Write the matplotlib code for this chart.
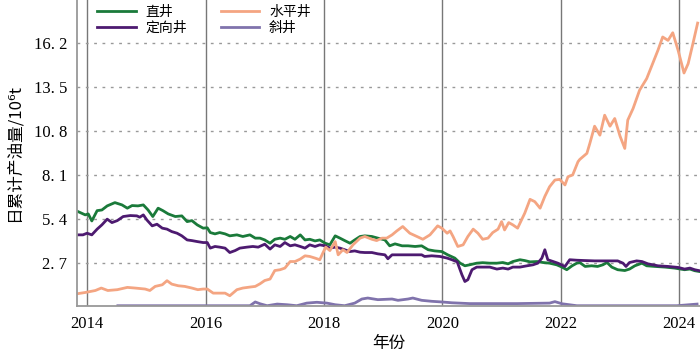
import matplotlib.pyplot as plt

plt.rcParams['font.family'] = ['Liberation Serif', 'Noto Sans CJK SC', 'DejaVu Sans']

# 直井
zj_year = [2013.83, 2013.97, 2014.02, 2014.08, 2014.17, 2014.25, 2014.34, 2014.47, 2014.59, 2014.68,
           2014.76, 2014.86, 2014.95, 2015.03, 2015.11, 2015.20, 2015.28, 2015.37, 2015.49, 2015.60,
           2015.69, 2015.77, 2015.86, 2015.96, 2016.03, 2016.08, 2016.16, 2016.24, 2016.33, 2016.41,
           2016.53, 2016.63, 2016.75, 2016.84, 2016.92, 2017.00, 2017.09, 2017.17, 2017.26, 2017.34,
           2017.43, 2017.51, 2017.60, 2017.68, 2017.76, 2017.85, 2017.93, 2018.02, 2018.10, 2018.19,
           2018.27, 2018.35, 2018.44, 2018.52, 2018.61, 2018.69, 2018.81, 2018.91, 2019.03, 2019.11,
           2019.20, 2019.32, 2019.42, 2019.54, 2019.65, 2019.76, 2019.87, 2019.99, 2020.09, 2020.21,
           2020.30, 2020.38, 2020.46, 2020.58, 2020.68, 2020.80, 2020.92, 2021.02, 2021.11, 2021.19,
           2021.31, 2021.39, 2021.48, 2021.60, 2021.70, 2021.81, 2021.93, 2022.02, 2022.10, 2022.19,
           2022.27, 2022.32, 2022.41, 2022.52, 2022.62, 2022.71, 2022.78, 2022.86, 2022.96, 2023.08,
           2023.16, 2023.25, 2023.37, 2023.45, 2023.59, 2023.76, 2023.92, 2024.09, 2024.18, 2024.26,
           2024.34]
zj_val = [5.90, 5.67, 5.73, 5.30, 5.93, 5.97, 6.22, 6.42, 6.28, 6.08,
          6.24, 6.22, 6.28, 5.97, 5.57, 6.08, 5.93, 5.73, 5.57, 5.61,
          5.26, 5.32, 5.06, 4.86, 4.88, 4.59, 4.51, 4.59, 4.51, 4.39,
          4.45, 4.35, 4.45, 4.25, 4.25, 4.14, 3.94, 4.18, 4.25, 4.18,
          4.35, 4.18, 4.45, 4.14, 4.18, 4.08, 4.14, 3.94, 3.84, 4.39,
          4.25, 4.10, 3.94, 4.14, 4.35, 4.39, 4.35, 4.25, 4.14, 3.78,
          3.90, 3.78, 3.78, 3.74, 3.78, 3.54, 3.47, 3.43, 3.23, 3.03,
          2.72, 2.56, 2.62, 2.72, 2.75, 2.72, 2.72, 2.76, 2.68, 2.82,
          2.93, 2.88, 2.80, 2.82, 2.76, 2.72, 2.62, 2.48, 2.32, 2.56,
          2.72, 2.76, 2.52, 2.56, 2.52, 2.62, 2.76, 2.48, 2.32, 2.27,
          2.36, 2.56, 2.72, 2.56, 2.52, 2.48, 2.42, 2.32, 2.36, 2.26,
          2.21]

# 定向井
dx_year = [2013.83, 2013.93, 2014.00, 2014.08, 2014.17, 2014.25, 2014.34, 2014.42, 2014.51, 2014.61,
           2014.73, 2014.84, 2014.89, 2014.95, 2015.01, 2015.10, 2015.18, 2015.27, 2015.35, 2015.43,
           2015.52, 2015.60, 2015.69, 2015.77, 2015.86, 2015.96, 2016.03, 2016.08, 2016.16, 2016.24,
           2016.33, 2016.41, 2016.50, 2016.58, 2016.70, 2016.80, 2016.89, 2017.00, 2017.09, 2017.17,
           2017.26, 2017.34, 2017.43, 2017.51, 2017.60, 2017.68, 2017.76, 2017.85, 2017.93, 2018.02,
           2018.10, 2018.19, 2018.27, 2018.35, 2018.44, 2018.52, 2018.61, 2018.69, 2018.81, 2018.91,
           2019.03, 2019.08, 2019.15, 2019.32, 2019.49, 2019.65, 2019.70, 2019.82, 2019.96, 2020.08,
           2020.16, 2020.25, 2020.33, 2020.38, 2020.43, 2020.50, 2020.58, 2020.68, 2020.80, 2020.92,
           2021.02, 2021.11, 2021.19, 2021.31, 2021.43, 2021.53, 2021.61, 2021.68, 2021.73, 2021.78,
           2021.87, 2021.95, 2022.07, 2022.15, 2022.27, 2022.41, 2022.57, 2022.74, 2022.96, 2023.05,
           2023.10, 2023.16, 2023.28, 2023.37, 2023.47, 2023.64, 2023.81, 2023.98, 2024.09, 2024.18,
           2024.26, 2024.34]
dx_val = [4.45, 4.45, 4.55, 4.45, 4.80, 5.06, 5.41, 5.20, 5.32, 5.57,
          5.63, 5.61, 5.53, 5.67, 5.36, 5.00, 5.10, 4.86, 4.80, 4.65,
          4.55, 4.39, 4.14, 4.10, 4.04, 3.98, 3.98, 3.64, 3.74, 3.70,
          3.64, 3.37, 3.49, 3.64, 3.70, 3.74, 3.70, 3.88, 3.58, 3.84,
          3.74, 3.98, 3.78, 3.84, 3.74, 3.64, 3.84, 3.74, 3.84, 3.78,
          3.64, 3.70, 3.64, 3.54, 3.43, 3.47, 3.39, 3.37, 3.37, 3.29,
          3.23, 2.99, 3.23, 3.23, 3.23, 3.23, 3.13, 3.17, 3.13, 3.03,
          2.93, 2.80, 2.01, 1.60, 1.71, 2.32, 2.48, 2.48, 2.48, 2.36,
          2.42, 2.36, 2.48, 2.48, 2.56, 2.62, 2.72, 3.03, 3.54, 2.93,
          2.82, 2.72, 2.52, 2.93, 2.90, 2.88, 2.86, 2.86, 2.86, 2.72,
          2.52, 2.76, 2.86, 2.82, 2.68, 2.56, 2.52, 2.46, 2.36, 2.42,
          2.32, 2.26]

# 水平井
sp_year = [2013.83, 2013.97, 2014.14, 2014.24, 2014.35, 2014.51, 2014.68, 2014.81, 2014.98, 2015.06,
           2015.15, 2015.27, 2015.35, 2015.43, 2015.54, 2015.65, 2015.77, 2015.87, 2015.96, 2016.03,
           2016.13, 2016.24, 2016.33, 2016.41, 2016.53, 2016.63, 2016.75, 2016.84, 2016.92, 2017.00,
           2017.09, 2017.17, 2017.26, 2017.34, 2017.43, 2017.51, 2017.60, 2017.68, 2017.76, 2017.85,
           2017.93, 2017.98, 2018.03, 2018.10, 2018.19, 2018.24, 2018.32, 2018.39, 2018.49, 2018.61,
           2018.69, 2018.81, 2018.89, 2018.98, 2019.06, 2019.15, 2019.23, 2019.33, 2019.45, 2019.57,
           2019.67, 2019.79, 2019.92, 2019.99, 2020.08, 2020.13, 2020.18, 2020.26, 2020.35, 2020.43,
           2020.52, 2020.60, 2020.68, 2020.77, 2020.85, 2020.94, 2021.00, 2021.05, 2021.12, 2021.19,
           2021.27, 2021.39, 2021.48, 2021.56, 2021.65, 2021.73, 2021.81, 2021.90, 2021.98, 2022.07,
           2022.12, 2022.20, 2022.29, 2022.32, 2022.44, 2022.49, 2022.57, 2022.66, 2022.74, 2022.83,
           2022.91, 2023.00, 2023.08, 2023.13, 2023.22, 2023.33, 2023.45, 2023.55, 2023.64, 2023.72,
           2023.81, 2023.89, 2023.98, 2024.08, 2024.15, 2024.23, 2024.31]
sp_val = [0.85, 0.93, 1.05, 1.20, 1.05, 1.10, 1.24, 1.20, 1.14, 1.05,
          1.30, 1.40, 1.65, 1.44, 1.34, 1.30, 1.20, 1.10, 1.14, 1.14,
          0.89, 0.89, 0.89, 0.73, 1.10, 1.20, 1.26, 1.30, 1.46, 1.66,
          1.75, 2.27, 2.32, 2.42, 2.82, 2.82, 2.97, 3.17, 3.13, 3.03,
          2.93, 3.33, 3.70, 3.49, 4.04, 3.23, 3.54, 3.37, 3.84, 4.25,
          4.35, 4.18, 4.10, 4.25, 4.25, 4.45, 4.69, 4.96, 4.55, 4.35,
          4.18, 4.45, 5.00, 4.86, 4.55, 4.69, 4.35, 3.74, 3.84, 4.35,
          4.80, 4.55, 4.18, 4.25, 4.59, 4.80, 5.26, 4.75, 5.20, 5.06,
          4.86, 5.77, 6.62, 6.48, 6.08, 6.80, 7.39, 7.80, 7.84, 7.50,
          8.00, 8.11, 8.92, 9.06, 9.43, 10.04, 11.09, 10.54, 11.76, 11.09,
          11.56, 10.48, 9.73, 11.46, 12.17, 13.29, 14.00, 14.91, 15.73, 16.54,
          16.33, 16.80, 15.73, 14.34, 14.91, 16.13, 17.39]

# 斜井
xj_year = [2014.52, 2016.75, 2016.84, 2016.92, 2017.04, 2017.21, 2017.38, 2017.54, 2017.71, 2017.88,
           2018.05, 2018.19, 2018.35, 2018.52, 2018.64, 2018.74, 2018.91, 2019.15, 2019.25, 2019.42,
           2019.50, 2019.65, 2019.82, 2019.99, 2020.16, 2020.46, 2021.26, 2021.81, 2021.90, 2022.02,
           2022.27, 2023.33, 2023.96, 2024.30]
xj_val = [0.12, 0.12, 0.35, 0.24, 0.12, 0.22, 0.18, 0.12, 0.28, 0.33,
          0.28, 0.18, 0.12, 0.28, 0.53, 0.59, 0.49, 0.53, 0.45, 0.53,
          0.59, 0.45, 0.39, 0.35, 0.30, 0.25, 0.25, 0.28, 0.37, 0.24,
          0.12, 0.12, 0.12, 0.22]

x_ticks = [2014, 2016, 2018, 2020, 2022, 2024]
y_ticks = [2.7, 5.4, 8.1, 10.8, 13.5, 16.2]
y_ticklabels = ['2. 7', '5. 4', '8. 1', '10. 8', '13. 5', '16. 2']

fig = plt.figure(figsize=(7, 3.53), dpi=100)
ax = fig.add_axes([0.11, 0.133, 0.89, 0.867])

ax.plot(zj_year, zj_val, color='#1a7a3a', lw=2.0, label='直井')
ax.plot(dx_year, dx_val, color='#4d1a70', lw=2.0, label='定向井')
ax.plot(sp_year, sp_val, color='#f4a582', lw=2.0, label='水平井')
ax.plot(xj_year, xj_val, color='#8073ac', lw=2.0, label='斜井')

ax.set_xlim(2013.83, 2024.35)
ax.set_ylim(0.1, 18.8)
ax.set_xticks(x_ticks)
ax.set_yticks(y_ticks)
ax.set_yticklabels(y_ticklabels)
ax.tick_params(length=0, labelsize=12, pad=7)

for yr in x_ticks:
    ax.axvline(yr, color='#777777', lw=1, zorder=0)
for v in y_ticks:
    ax.axhline(v, color='#999999', lw=1, ls=(0, (2, 4)), zorder=0)

for s in ['top', 'right']:
    ax.spines[s].set_visible(False)
for s in ['left', 'bottom']:
    ax.spines[s].set_color('#999999')
    ax.spines[s].set_linewidth(1.3)

ax.set_xlabel('年份', fontsize=12, family=['Noto Sans CJK SC'], labelpad=2)
ax.set_ylabel('日累计产油量/10⁶t', fontsize=12, family=['Noto Sans CJK SC', 'DejaVu Sans'], labelpad=8)

ax.legend(ncol=2, loc='upper left', bbox_to_anchor=(0.012, 1.025), frameon=False,
          prop={'family': ['Noto Sans CJK SC'], 'size': 10},
          handlelength=2.8, handletextpad=0.7, columnspacing=2.4, labelspacing=0.15)

fig.savefig('out.png', dpi=100)
